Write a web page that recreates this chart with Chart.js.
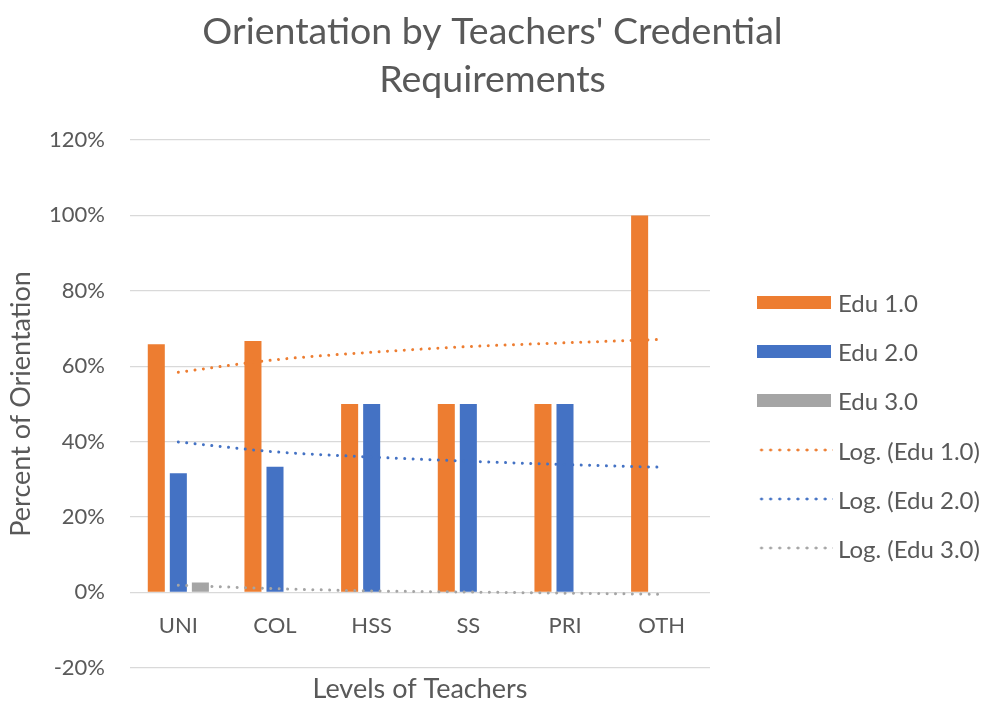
<!DOCTYPE html>
<html>
<head>
<meta charset="utf-8">
<script src="https://cdn.jsdelivr.net/npm/chart.js@4/dist/chart.umd.min.js"></script>
<style>
  html, body { margin: 0; padding: 0; background: #fff; overflow: hidden; }
  #wrap { position: relative; width: 985px; height: 706px; }
  #legend { position: absolute; left: 757px; top: 0; font-family: Lato, sans-serif; font-size: 24px; color: #595959; }
  .item { position: absolute; left: 0; height: 28px; display: flex; align-items: center; white-space: nowrap; }
  .swatch { width: 74px; height: 13px; margin-right: 7px; }
  .dots { width: 76px; height: 4px; margin-right: 5px; }
</style>
</head>
<body>
<div id="wrap">
  <canvas id="chart"></canvas>
  <div id="legend"></div>
</div>
<script>
const categories = ['UNI', 'COL', 'HSS', 'SS', 'PRI', 'OTH'];
const edu1 = [65.8, 66.7, 50, 50, 50, 100];
const edu2 = [31.6, 33.3, 50, 50, 50, 0];
const edu3 = [2.6, 0, 0, 0, 0, 0];
// trendlines at each category
const logEdu1 = [58.4, 61.7, 63.7, 65.2, 66.2, 67.1];
const logEdu2 = [39.9, 37.3, 35.9, 34.8, 33.9, 33.2];
const logEdu3 = [1.9, 1.0, 0.4, 0.1, -0.2, -0.5];
const yMin = -20;
const yMax = 120;
const yStep = 20;

const ORANGE = '#ED7D31';
const BLUE = '#4472C4';
const GRAY = '#A5A5A5';
const TEXT = '#595959';

Chart.defaults.font.family = 'Lato, sans-serif';
Chart.defaults.color = TEXT;

function barSet(label, data, color) {
  return {
    type: 'bar',
    label,
    data,
    backgroundColor: color,
    borderWidth: 0,
    categoryPercentage: 0.684,
    barPercentage: 0.773,
    order: 2,
  };
}

function trendSet(label, data, color) {
  return {
    type: 'line',
    label,
    data,
    borderColor: color,
    backgroundColor: color,
    borderWidth: 3,
    borderDash: [0.01, 8.4],
    borderCapStyle: 'round',
    cubicInterpolationMode: 'monotone',
    pointRadius: 0,
    fill: false,
    order: 1,
  };
}

const datasets = [
  barSet('Edu 1.0', edu1, ORANGE),
  barSet('Edu 2.0', edu2, BLUE),
  barSet('Edu 3.0', edu3, GRAY),
  trendSet('Log. (Edu 1.0)', logEdu1, ORANGE),
  trendSet('Log. (Edu 2.0)', logEdu2, BLUE),
  trendSet('Log. (Edu 3.0)', logEdu3, GRAY),
];

const ctx = document.getElementById('chart').getContext('2d');
new Chart(ctx, {
  data: { labels: categories, datasets },
  options: {
    responsive: true,
    maintainAspectRatio: false,
    animation: false,
    layout: { padding: 0 },
    plugins: {
      legend: { display: false },
      tooltip: { enabled: false },
      title: {
        display: true,
        text: ['Orientation by Teachers\' Credential', 'Requirements'],
        color: TEXT,
        font: { size: 37.5, weight: 'normal', lineHeight: 1.28 },
        padding: { top: 8, bottom: 36 },
      },
    },
    scales: {
      x: {
        type: 'category',
        position: { y: 0 },
        afterFit: (scale) => { scale.height = 0; },
        grid: { display: false },
        border: { display: false },
        ticks: { color: TEXT, font: { size: 22 }, padding: 12, maxRotation: 0 },
      },
      x2: {
        type: 'category',
        position: 'bottom',
        labels: categories,
        afterFit: (scale) => { scale.height = 35; },
        grid: { display: false, drawTicks: false },
        border: { display: false },
        ticks: { display: false },
        title: {
          display: true,
          text: 'Levels of Teachers',
          color: TEXT,
          font: { size: 27, lineHeight: 1 },
          padding: { top: 8, bottom: 0 },
        },
      },
      y: {
        min: yMin,
        max: yMax,
        afterFit: (scale) => { scale.width = 130; },
        grid: { color: '#D9D9D9', lineWidth: 1.3, drawTicks: false },
        border: { display: false },
        ticks: {
          stepSize: yStep,
          color: TEXT,
          font: { size: 22 },
          padding: 25,
          callback: (v) => `${v}%`,
        },
        title: {
          display: true,
          text: 'Percent of Orientation',
          color: TEXT,
          font: { size: 27, lineHeight: 1 },
          padding: { top: 8, bottom: 0 },
        },
      },
      // empty right-hand axis that keeps room for the legend
      legendSpace: {
        type: 'linear',
        position: 'right',
        afterFit: (scale) => { scale.width = 275; },
        grid: { display: false },
        border: { display: false },
        ticks: { display: false },
      },
    },
  },
});

// legend built from the datasets
const legendTops = [302, 351, 400, 450, 499, 548];
document.getElementById('legend').innerHTML = datasets.map((ds, i) => {
  const mark = ds.type === 'bar'
    ? `<div class="swatch" style="background:${ds.backgroundColor}"></div>`
    : `<div class="dots" style="background:radial-gradient(circle, ${ds.borderColor} 1.3px, transparent 1.7px) 0 0 / 9.1px 4px repeat-x"></div>`;
  return `<div class="item" style="top:${legendTops[i] - 14}px">${mark}<span>${ds.label}</span></div>`;
}).join('');
</script>
</body>
</html>
